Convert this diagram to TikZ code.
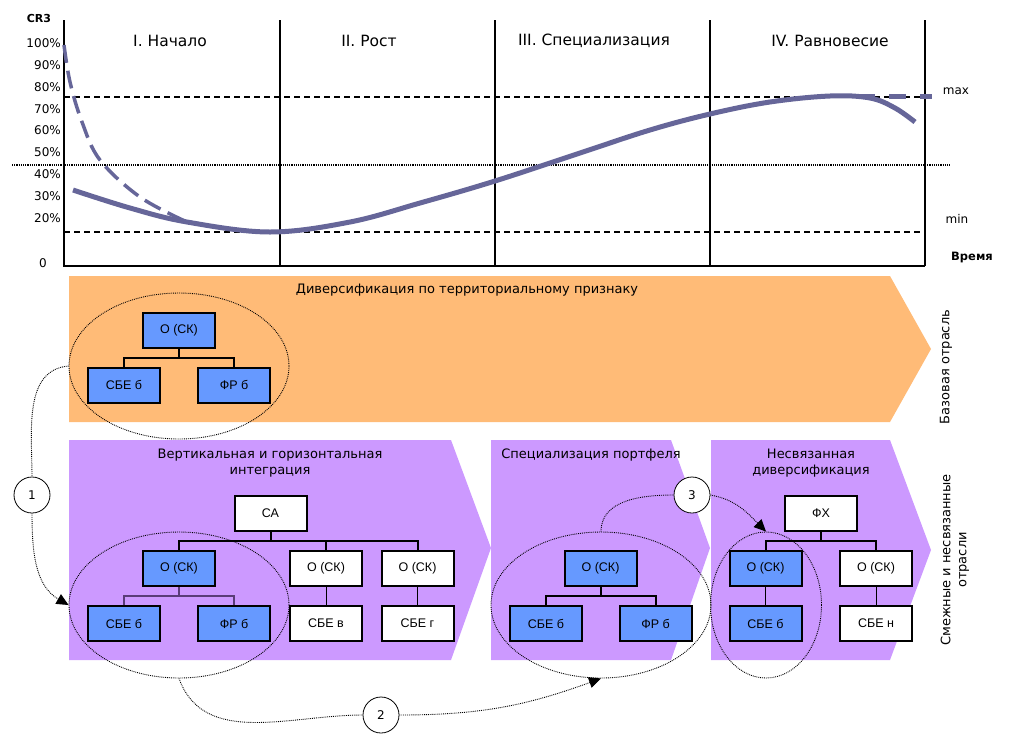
\documentclass[tikz,border=0pt]{standalone}
\usepackage{fontspec}
\setmainfont{DejaVu Sans}
\newfontfamily\boxfont{Liberation Sans}
\usetikzlibrary{shapes.geometric,arrows.meta,positioning,calc}

\definecolor{curvecol}{HTML}{666699}
\definecolor{orangeband}{HTML}{FFBB77}
\definecolor{violetband}{HTML}{CC99FF}
\definecolor{boxblue}{HTML}{6699FF}
\definecolor{darkviolet}{HTML}{5A3C78}

\begin{document}
\begin{tikzpicture}[x=1pt, y=-1pt, every node/.style={align=center}]
        % стили узлов
        \tikzstyle{unit} = [rectangle, draw=black, line width=2pt, minimum width=72pt, minimum height=35pt, inner sep=0pt, fill=white, font=\boxfont\fontsize{12.5}{14}\selectfont]
        \tikzstyle{unitblue} = [unit, fill=boxblue]
        \tikzstyle{group} = [ellipse, draw=black, densely dotted, line width=0.9pt, inner sep=0pt, minimum width=220pt, minimum height=146pt]
        \tikzstyle{stepno} = [circle, draw=black, fill=white, line width=0.8pt, minimum size=36pt, inner sep=0pt, font=\fontsize{12}{14}\selectfont]
        \tikzstyle{title} = [font=\fontsize{13}{16}\selectfont]
        \tikzstyle{stage} = [font=\fontsize{15.5}{18}\selectfont]
        \tikzstyle{small} = [font=\fontsize{12}{14}\selectfont, inner sep=0pt]
        \tikzstyle{link} = [densely dotted, line width=0.9pt]
        \tikzstyle{arrow} = [link, -{Triangle[length=12pt,width=11pt]}]
        \tikzstyle{tree} = [line width=2pt]
        \tikzstyle{stem} = [line width=1pt]

        \useasboundingbox (0,0) rectangle (1009,748);

        % график CR3
        \draw[line width=2pt] (64,20) -- (64,266) -- (925,266);
        \foreach \x in {280,495,710,925}
            \draw[line width=2pt] (\x,20) -- (\x,266);
        \draw[line width=1.2pt, dash pattern=on 6pt off 4pt] (64,97) -- (925,97);
        \draw[line width=1.2pt, dash pattern=on 6pt off 4pt] (64,232) -- (925,232);
        \draw[line width=1.2pt, densely dotted] (12,165) -- (951,165);

        \draw[curvecol, line width=3.5pt, dash pattern=on 18pt off 8pt] plot[smooth, tension=0.6] coordinates {(64,45) (70,82) (82,122) (100,160) (140,197) (187,222)};
        \draw[curvecol, line width=5pt] plot[smooth, tension=0.6] coordinates {(73,190) (130,208) (187,222) (270,232) (350,222) (420,203) (495,181) (580,153) (650,130) (710,114) (770,102) (830,96) (870,98) (895,108) (915,122)};
        \draw[curvecol, line width=5pt, dash pattern=on 17pt off 14pt] (858,96) -- (932,96);

        \node (cr) [font=\bfseries\fontsize{11}{13}\selectfont] at (39,18) {CR3};
        \foreach \p [count=\i] in {100,90,80,70,60,50,40,30,20}
            \node (p\p) [small, anchor=east] at (61,{43+(\i-1)*21.9}) {\p\%};
        \node (p0) [small, anchor=east] at (47,263) {0};
        \node (lmax) [small] at (956,91) {max};
        \node (lmin) [small] at (957,219) {min};
        \node (time) [font=\bfseries\fontsize{11.5}{13}\selectfont] at (972,257) {Время};

        \node (st1) [stage] at (170,41) {I. Начало};
        \node (st2) [stage] at (369,41) {II. Рост};
        \node (st3) [stage] at (594,41) {III. Специализация};
        \node (st4) [stage] at (830,41) {IV. Равновесие};

        % полосы
        \fill[orangeband] (69,276) -- (890,276) -- (931,349) -- (890,422) -- (69,422) -- cycle;
        \fill[violetband] (69,440) -- (451,440) -- (491,548) -- (451,660) -- (69,660) -- cycle;
        \fill[violetband] (491,440) -- (671,440) -- (710,548) -- (671,660) -- (491,660) -- cycle;
        \fill[violetband] (711,440) -- (890,440) -- (931,550) -- (890,660) -- (711,660) -- cycle;

        \node (tA) [title] at (467,290) {Диверсификация по территориальному признаку};
        \node (tB) [title] at (270,463) {Вертикальная и горизонтальная\\интеграция};
        \node (tC) [title] at (591,455) {Специализация портфеля};
        \node (tD) [title] at (811,463) {Несвязанная\\диверсификация};
        \node (side1) [title, rotate=90] at (946,367) {Базовая отрасль};
        \node (side2) [title, rotate=90] at (955,560) {Смежные и несвязанные\\отрасли};

        % оргструктуры
        \node (oA) [unitblue] at (179,330) {О (СК)};
        \node (sbeA) [unitblue] at (124,385) {СБЕ б};
        \node (frA) [unitblue] at (234,385) {ФР б};

        \node (ca) [unit] at (270.5,513.5) {СА};
        \node (o1) [unitblue] at (179,568.5) {О (СК)};
        \node (o2) [unit] at (326,568.5) {О (СК)};
        \node (o3) [unit] at (417.5,568.5) {О (СК)};
        \node (sbe1) [unitblue] at (124,623.5) {СБЕ б};
        \node (fr1) [unitblue] at (234,623.5) {ФР б};
        \node (sbeV) [unit] at (326,623.5) {СБЕ в};
        \node (sbeG) [unit] at (417.5,623.5) {СБЕ г};

        \node (o4) [unitblue] at (600.5,568.5) {О (СК)};
        \node (sbe2) [unitblue] at (546,623.5) {СБЕ б};
        \node (fr2) [unitblue] at (655.5,623.5) {ФР б};

        \node (fx) [unit] at (821,513.5) {ФХ};
        \node (o5) [unitblue] at (765.5,568.5) {О (СК)};
        \node (o6) [unit] at (876,568.5) {О (СК)};
        \node (sbe3) [unitblue] at (765.5,623.5) {СБЕ б};
        \node (sbeN) [unit] at (876,623.5) {СБЕ н};

        \draw[tree] (oA.south) -- ++(0,9) -| (sbeA.north);
        \draw[tree] (oA.south) -- ++(0,9) -| (frA.north);
        \draw[tree] (ca.south) -- ++(0,9) -| (o1.north);
        \draw[tree] (ca.south) -- ++(0,9) -| (o2.north);
        \draw[tree] (ca.south) -- ++(0,9) -| (o3.north);
        \draw[darkviolet, line width=1.5pt] (o1.south) -- ++(0,9) -| (sbe1.north);
        \draw[darkviolet, line width=1.5pt] (o1.south) -- ++(0,9) -| (fr1.north);
        \draw[stem] (o2) -- (sbeV);
        \draw[stem] (o3) -- (sbeG);
        \draw[tree] (o4.south) -- ++(0,9) -| (sbe2.north);
        \draw[tree] (o4.south) -- ++(0,9) -| (fr2.north);
        \draw[tree] (fx.south) -- ++(0,9) -| (o5.north);
        \draw[tree] (fx.south) -- ++(0,9) -| (o6.north);
        \draw[stem] (o5) -- (sbe3);
        \draw[stem] (o6) -- (sbeN);

        % группы и переходы
        \node (ellA) [group] at (179,366) {};
        \node (ellB) [group] at (179,605) {};
        \node (ellC) [group] at (601,605) {};
        \node (ellD) [group, minimum width=111pt] at (766,605) {};

        \node (c1) [stepno] at (32,495) {1};
        \node (c2) [stepno] at (381,715) {2};
        \node (c3) [stepno] at (692,495) {3};

        \draw[link] (ellA.west) to[out=185, in=90] (c1.north);
        \draw[arrow] (c1.south) to[out=-90, in=150] (ellB.west);
        \draw[link] (ellB.south) to[out=-70, in=180] (c2.west);
        \draw[arrow] (c2.east) to[out=0, in=-160] (ellC.south);
        \draw[link] (ellC.north) to[out=90, in=180] (c3.west);
        \draw[arrow] (c3.east) to[out=-10, in=135] (ellD.north);
\end{tikzpicture}
\end{document}
